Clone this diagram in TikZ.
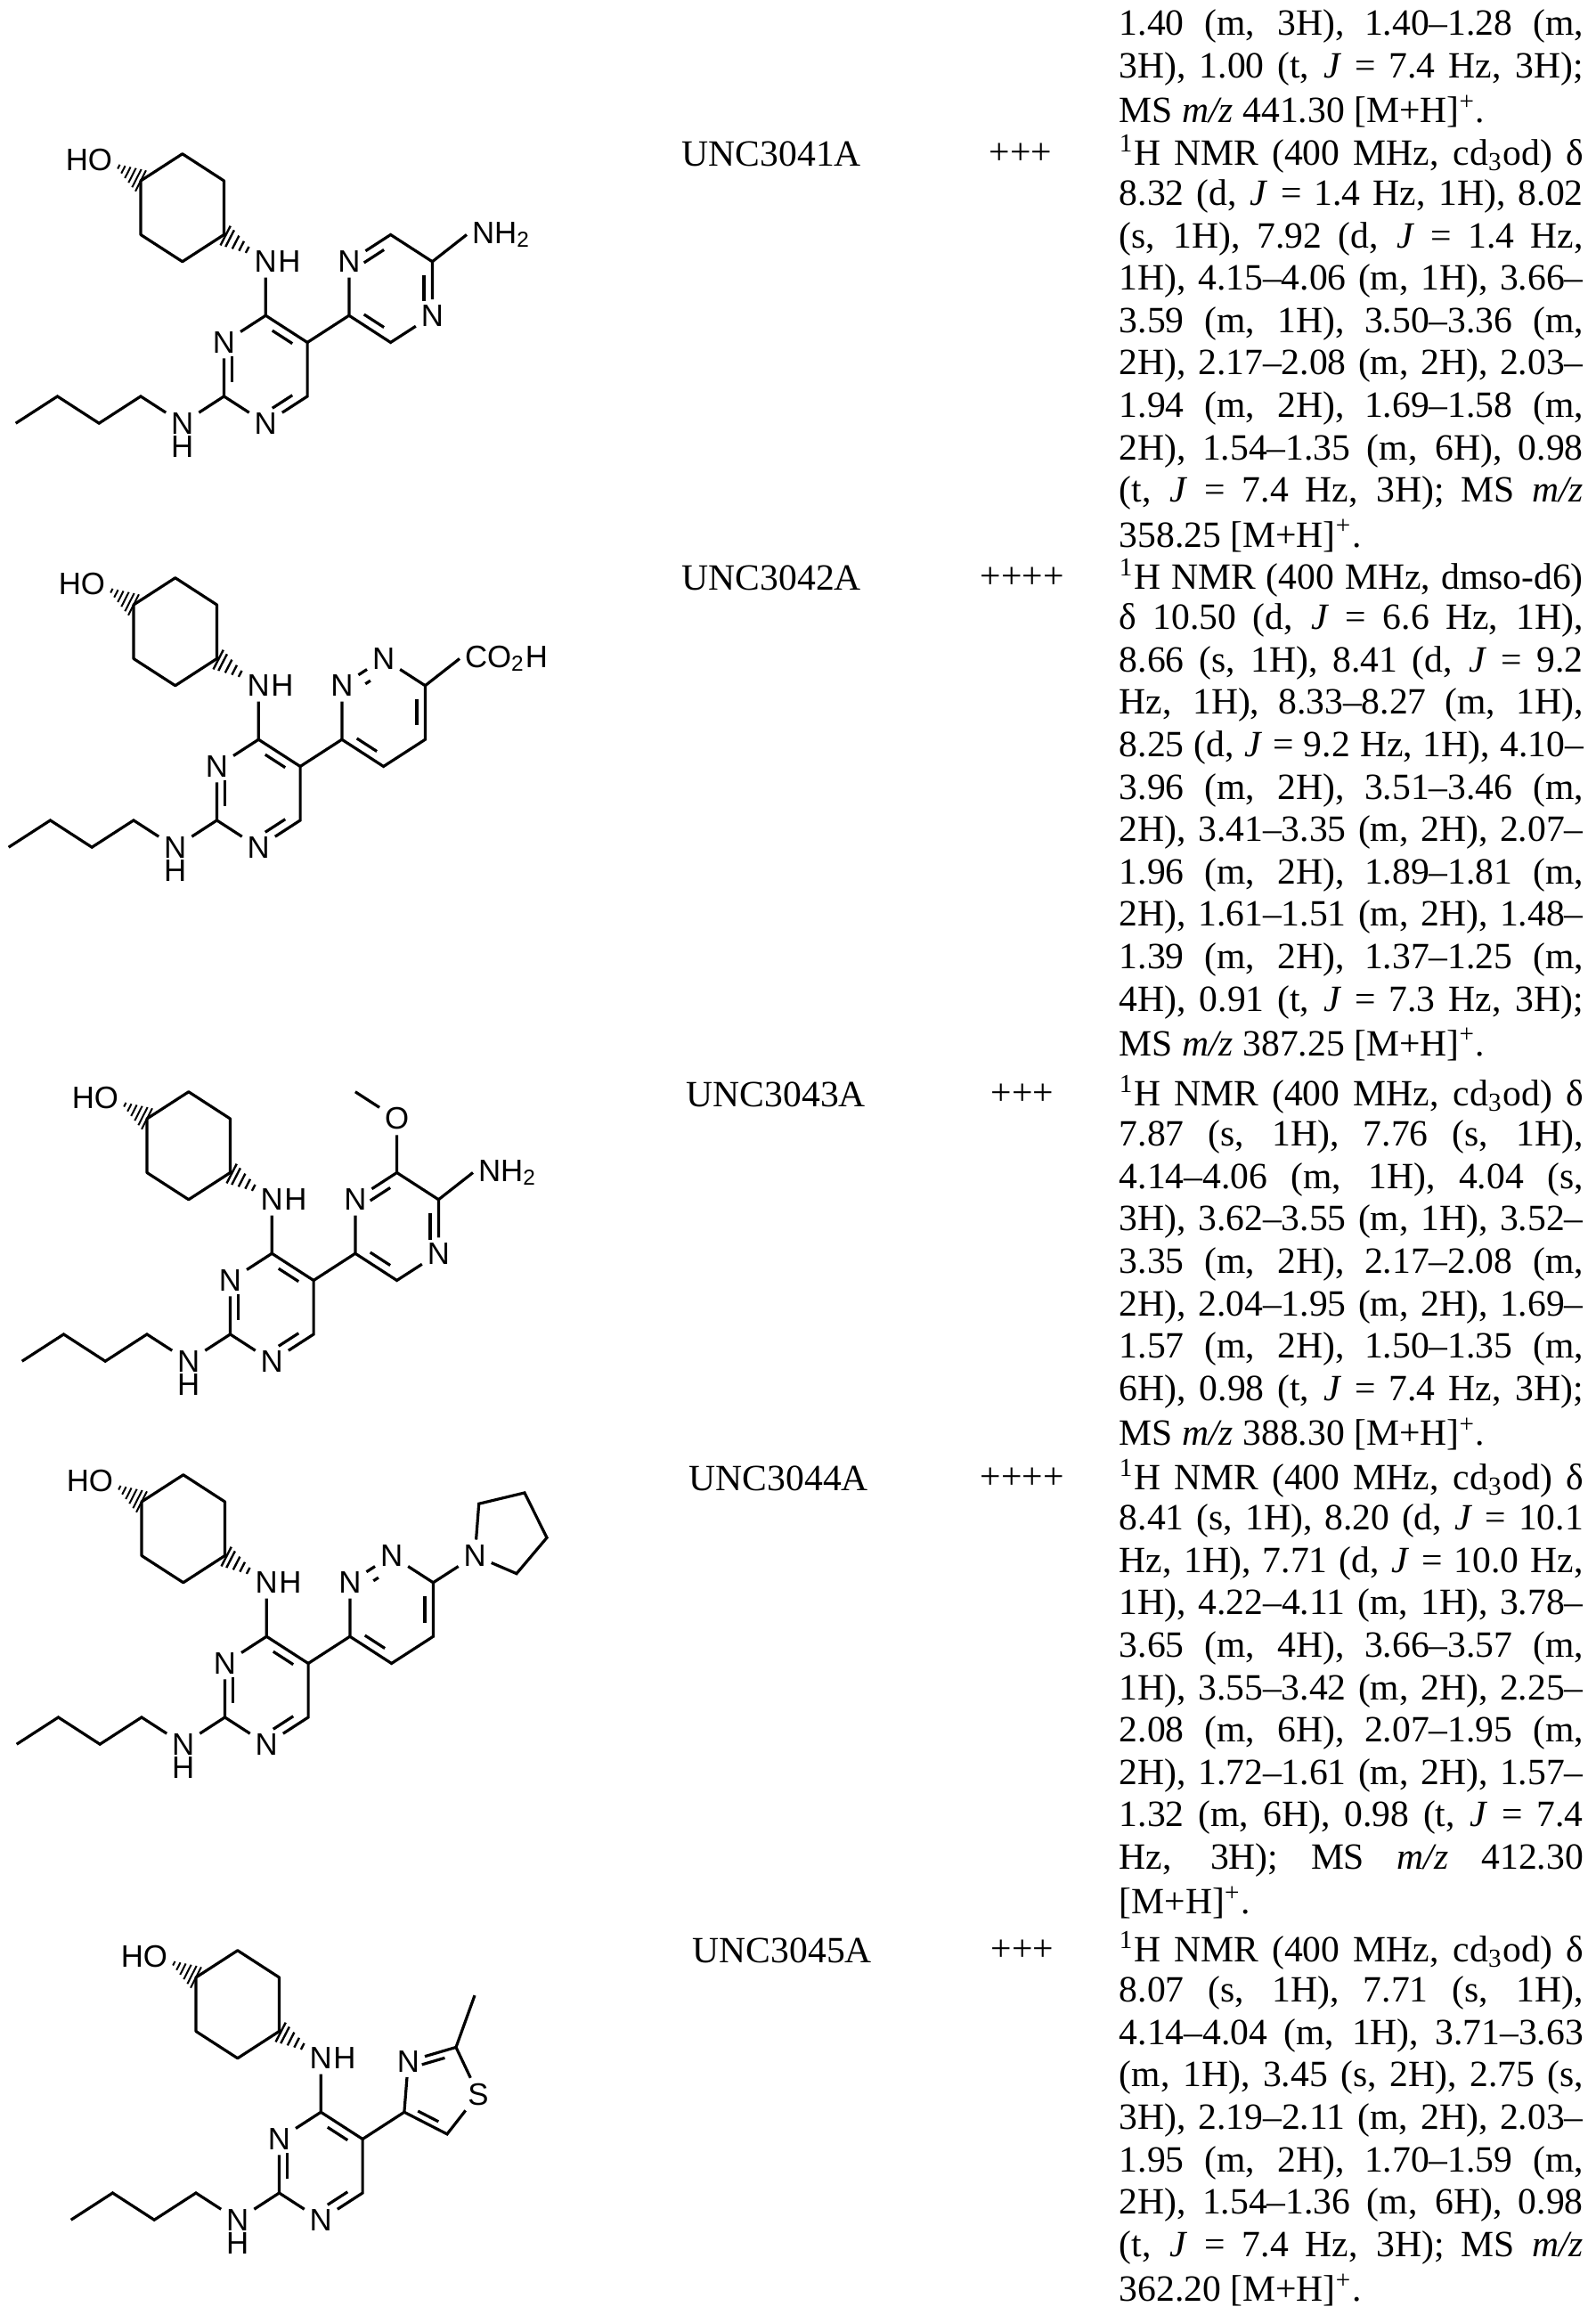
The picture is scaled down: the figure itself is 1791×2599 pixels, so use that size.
\documentclass[tikz,border=0pt]{standalone}
\usepackage{fontspec}
\setmainfont{Liberation Serif}
\newfontfamily\lsans{Liberation Sans}
\usetikzlibrary{calc}
\tikzset{x=0.25pt,y=-0.25pt,
 bond/.style={line width=0.8pt},
 atm/.style={font=\lsans\fontsize{8.7}{10}\selectfont, inner sep=1.3pt},
 txt/.style={font=\fontsize{10.4}{12}\selectfont, inner sep=0pt, anchor=west}}
\newcommand\dbl[3]{\draw[bond] ($(#1)!.2!(#2)!.2!(#3)$) -- ($(#2)!.2!(#1)!.2!(#3)$);}
\newcommand\hashb[2]{\foreach \t/\w in {0.12/0.6,0.3/1.1,0.48/1.6,0.66/2.1,0.84/2.6,1.0/3.0}{\draw[line width=0.5pt] ($(#1)!\t!(#2)!\w pt!90:(#1)$) -- ($(#1)!\t!(#2)!\w pt!-90:(#1)$);}}
\newcommand\hashc[2]{\foreach \t/\w in {0.0/0.4,0.2/0.9,0.4/1.4,0.6/1.9,0.8/2.4,0.95/2.8}{\draw[line width=0.6pt] ($(#2)!\t!(#1)!\w pt!90:(#2)$) -- ($(#2)!\t!(#1)!\w pt!-90:(#2)$);}}
% #1 id, #2 x, #3 y, #4 extra
\newcommand\mol[4]{%
\begin{scope}[shift={(#2,#3)},yscale=1.12]
\coordinate (#1UL) at (0,0);
\coordinate (#1T) at (46.8,-27);
\coordinate (#1UR) at (93.5,0);
\coordinate (#1LR) at (93.5,54);
\coordinate (#1B) at (46.8,81);
\coordinate (#1LL) at (0,54);
\coordinate (#1hoE) at (-28,-16);
\node[atm,anchor=east] (#1HO) at (-26,-21) {HO};
\node[atm] (#1N4) at (140.3,81) {N};
\node[atm,anchor=west,inner sep=0pt,xshift=-1.3pt] (#1H4) at (#1N4.east) {H};
\coordinate (#1nhE) at ($(#1LR)!0.7!(#1N4)$);
\coordinate (#1C4) at (140.3,135);
\coordinate (#1C5) at (187.1,162);
\coordinate (#1C6) at (187.1,216);
\node[atm] (#1N1) at (140.3,243) {N};
\coordinate (#1C2) at (93.5,216);
\node[atm] (#1N3) at (93.5,162) {N};
\coordinate (#1P) at (140.3,189);
\node[atm] (#1N2) at (46.8,243) {N};
\node[atm,anchor=north,inner sep=0pt,yshift=1pt] (#1H2) at (#1N2.south) {H};
\coordinate (#1b1) at (0,216);
\coordinate (#1b2) at (-46.8,243);
\coordinate (#1b3) at (-93.5,216);
\coordinate (#1b4) at (-140.3,243);
\coordinate (#1A) at (233.9,135);
\draw[bond,line join=round] (#1UL)--(#1T)--(#1UR)--(#1LR)--(#1B)--(#1LL)--cycle;
\hashb{#1hoE}{#1UL}
\hashc{#1LR}{#1nhE}
\draw[bond] (#1N4)--(#1C4)--(#1C5)--(#1C6)--(#1N1)--(#1C2)--(#1N3)--(#1C4);
\draw[bond] (#1C2)--(#1N2)--(#1b1)--(#1b2)--(#1b3)--(#1b4);
\draw[bond] (#1C5)--(#1A);
\dbl{#1C4}{#1C5}{#1P}
\dbl{#1N3}{#1C2}{#1P}
\dbl{#1C6}{#1N1}{#1P}
#4
\end{scope}}
% pyrazine (A at LL)
\newcommand\pyrazine[1]{%
\node[atm] (#1pN1) at (233.9,81) {N};
\coordinate (#1pT) at (280.6,54);
\coordinate (#1pUR) at (327.4,81);
\node[atm] (#1pN2) at (327.4,135) {N};
\coordinate (#1pB) at (280.6,162);
\coordinate (#1pQ) at (280.6,108);
\draw[bond] (#1A)--(#1pN1)--(#1pT)--(#1pUR)--(#1pN2)--(#1pB)--(#1A);
\dbl{#1pN1}{#1pT}{#1pQ}
\dbl{#1pUR}{#1pN2}{#1pQ}
\dbl{#1pB}{#1A}{#1pQ}
\node[atm,anchor=west] (#1NH2) at (366,54) {NH\textsubscript{2}};
\draw[bond] (#1pUR)--(#1NH2.west);}
\newcommand\pyridazine[1]{%
\node[atm] (#1pN1) at (233.9,81) {N};
\node[atm] (#1pN2) at (280.6,54) {N};
\coordinate (#1pUR) at (327.4,81);
\coordinate (#1pLR) at (327.4,135);
\coordinate (#1pB) at (280.6,162);
\coordinate (#1pQ) at (280.6,108);
\draw[bond] (#1A)--(#1pN1)--(#1pN2)--(#1pUR)--(#1pLR)--(#1pB)--(#1A);
\draw[bond] ($(#1pN1)!.42!(#1pN2)!.25!(#1pQ)$) -- ($(#1pN2)!.42!(#1pN1)!.25!(#1pQ)$);
\dbl{#1pUR}{#1pLR}{#1pQ}
\dbl{#1pB}{#1A}{#1pQ}}
\newcommand\fullline[2]{\node[txt] at (1256,#1) {\makebox[130.25pt][s]{#2}};}
\newcommand\lastline[2]{\node[txt] at (1256,#1) {#2};}
\begin{document}
\begin{tikzpicture}
\fill[white] (0,0) rectangle (1791,2599);
\useasboundingbox (0,0) rectangle (1791,2599);
% ---- molecules
\mol{a}{158}{203}{\pyrazine{a}}
\mol{b}{150}{679}{\pyridazine{b}
 \node[atm,anchor=west] (bCO) at (366,54) {CO\textsubscript{2}H};
 \draw[bond] (bpUR)--(bCO.west);}
\mol{c}{165}{1256}{\pyrazine{c}
 \node[atm] (cO) at (280.6,0) {O};
 \coordinate (cMe) at (233.9,-27);
 \draw[bond] (cpT)--(cO)--(cMe);}
\mol{d}{159}{1686}{\pyridazine{d}
 \node[atm] (dNp) at (374.2,54) {N};
 \coordinate (dr1) at (378.7,2);
 \coordinate (dr2) at (430,-9);
 \coordinate (dr3) at (455,36);
 \coordinate (dr4) at (421,72);
 \draw[bond] (dpUR)--(dNp)--(dr1)--(dr2)--(dr3)--(dr4)--(dNp);}
\mol{e}{220}{2220}{%
 \node[atm] (eN) at (238.4,84) {N};
 \coordinate (eC2) at (292,70);
 \node[atm] (eS) at (317,117) {S};
 \coordinate (eC5) at (282,157);
 \coordinate (eMe) at (313,18);
 \coordinate (eQ) at (272,112);
 \draw[bond] (eA)--(eN)--(eC2)--(eS)--(eC5)--(eA);
 \draw[bond] (eC2)--(eMe);
 \dbl{eN}{eC2}{eQ}
 \dbl{eA}{eC5}{eQ}}
% ---- labels
\node[txt] (l1) at (765,173) {UNC3041A};
\node[txt] (p1) at (1110,173) {+++};
\node[txt] (l2) at (765,649) {UNC3042A};
\node[txt] (p2) at (1100,649) {++++};
\node[txt] (l3) at (770,1229) {UNC3043A};
\node[txt] (p3) at (1112,1229) {+++};
\node[txt] (l4) at (773,1660) {UNC3044A};
\node[txt] (p4) at (1100,1660) {++++};
\node[txt] (l5) at (777,2190) {UNC3045A};
\node[txt] (p5) at (1112,2190) {+++};
% ---- NMR text
\def\s{47.6}
\fullline{30}{1.40 (m, 3H), 1.40--1.28 (m,}
\fullline{{30+\s}}{3H), 1.00 (t, \textit{J} = 7.4 Hz, 3H);}
\lastline{{30+2*\s}}{MS \textit{m/z} 441.30 [M+H]\textsuperscript{+}.}
%
\fullline{173}{\textsuperscript{1}H NMR (400 MHz, cd\textsubscript{3}od) δ}
\fullline{{173+\s}}{8.32 (d, \textit{J} = 1.4 Hz, 1H), 8.02}
\fullline{{173+2*\s}}{(s, 1H), 7.92 (d, \textit{J} = 1.4 Hz,}
\fullline{{173+3*\s}}{1H), 4.15--4.06 (m, 1H), 3.66--}
\fullline{{173+4*\s}}{3.59 (m, 1H), 3.50--3.36 (m,}
\fullline{{173+5*\s}}{2H), 2.17--2.08 (m, 2H), 2.03--}
\fullline{{173+6*\s}}{1.94 (m, 2H), 1.69--1.58 (m,}
\fullline{{173+7*\s}}{2H), 1.54--1.35 (m, 6H), 0.98}
\fullline{{173+8*\s}}{(t, \textit{J} = 7.4 Hz, 3H); MS \textit{m/z}}
\lastline{{173+9*\s}}{358.25 [M+H]\textsuperscript{+}.}
%
\fullline{649}{\textsuperscript{1}H NMR (400 MHz, dmso-d6)}
\fullline{{649+\s}}{δ 10.50 (d, \textit{J} = 6.6 Hz, 1H),}
\fullline{{649+2*\s}}{8.66 (s, 1H), 8.41 (d, \textit{J} = 9.2}
\fullline{{649+3*\s}}{Hz, 1H), 8.33--8.27 (m, 1H),}
\fullline{{649+4*\s}}{8.25 (d, \textit{J} = 9.2 Hz, 1H), 4.10--}
\fullline{{649+5*\s}}{3.96 (m, 2H), 3.51--3.46 (m,}
\fullline{{649+6*\s}}{2H), 3.41--3.35 (m, 2H), 2.07--}
\fullline{{649+7*\s}}{1.96 (m, 2H), 1.89--1.81 (m,}
\fullline{{649+8*\s}}{2H), 1.61--1.51 (m, 2H), 1.48--}
\fullline{{649+9*\s}}{1.39 (m, 2H), 1.37--1.25 (m,}
\fullline{{649+10*\s}}{4H), 0.91 (t, \textit{J} = 7.3 Hz, 3H);}
\lastline{{649+11*\s}}{MS \textit{m/z} 387.25 [M+H]\textsuperscript{+}.}
%
\fullline{1229}{\textsuperscript{1}H NMR (400 MHz, cd\textsubscript{3}od) δ}
\fullline{{1229+\s}}{7.87 (s, 1H), 7.76 (s, 1H),}
\fullline{{1229+2*\s}}{4.14--4.06 (m, 1H), 4.04 (s,}
\fullline{{1229+3*\s}}{3H), 3.62--3.55 (m, 1H), 3.52--}
\fullline{{1229+4*\s}}{3.35 (m, 2H), 2.17--2.08 (m,}
\fullline{{1229+5*\s}}{2H), 2.04--1.95 (m, 2H), 1.69--}
\fullline{{1229+6*\s}}{1.57 (m, 2H), 1.50--1.35 (m,}
\fullline{{1229+7*\s}}{6H), 0.98 (t, \textit{J} = 7.4 Hz, 3H);}
\lastline{{1229+8*\s}}{MS \textit{m/z} 388.30 [M+H]\textsuperscript{+}.}
%
\fullline{1660}{\textsuperscript{1}H NMR (400 MHz, cd\textsubscript{3}od) δ}
\fullline{{1660+\s}}{8.41 (s, 1H), 8.20 (d, \textit{J} = 10.1}
\fullline{{1660+2*\s}}{Hz, 1H), 7.71 (d, \textit{J} = 10.0 Hz,}
\fullline{{1660+3*\s}}{1H), 4.22--4.11 (m, 1H), 3.78--}
\fullline{{1660+4*\s}}{3.65 (m, 4H), 3.66--3.57 (m,}
\fullline{{1660+5*\s}}{1H), 3.55--3.42 (m, 2H), 2.25--}
\fullline{{1660+6*\s}}{2.08 (m, 6H), 2.07--1.95 (m,}
\fullline{{1660+7*\s}}{2H), 1.72--1.61 (m, 2H), 1.57--}
\fullline{{1660+8*\s}}{1.32 (m, 6H), 0.98 (t, \textit{J} = 7.4}
\fullline{{1660+9*\s}}{Hz, 3H); MS \textit{m/z} 412.30}
\lastline{{1660+10*\s}}{[M+H]\textsuperscript{+}.}
%
\fullline{2190}{\textsuperscript{1}H NMR (400 MHz, cd\textsubscript{3}od) δ}
\fullline{{2190+\s}}{8.07 (s, 1H), 7.71 (s, 1H),}
\fullline{{2190+2*\s}}{4.14--4.04 (m, 1H), 3.71--3.63}
\fullline{{2190+3*\s}}{(m, 1H), 3.45 (s, 2H), 2.75 (s,}
\fullline{{2190+4*\s}}{3H), 2.19--2.11 (m, 2H), 2.03--}
\fullline{{2190+5*\s}}{1.95 (m, 2H), 1.70--1.59 (m,}
\fullline{{2190+6*\s}}{2H), 1.54--1.36 (m, 6H), 0.98}
\fullline{{2190+7*\s}}{(t, \textit{J} = 7.4 Hz, 3H); MS \textit{m/z}}
\lastline{{2190+8*\s}}{362.20 [M+H]\textsuperscript{+}.}
\end{tikzpicture}
\end{document}
